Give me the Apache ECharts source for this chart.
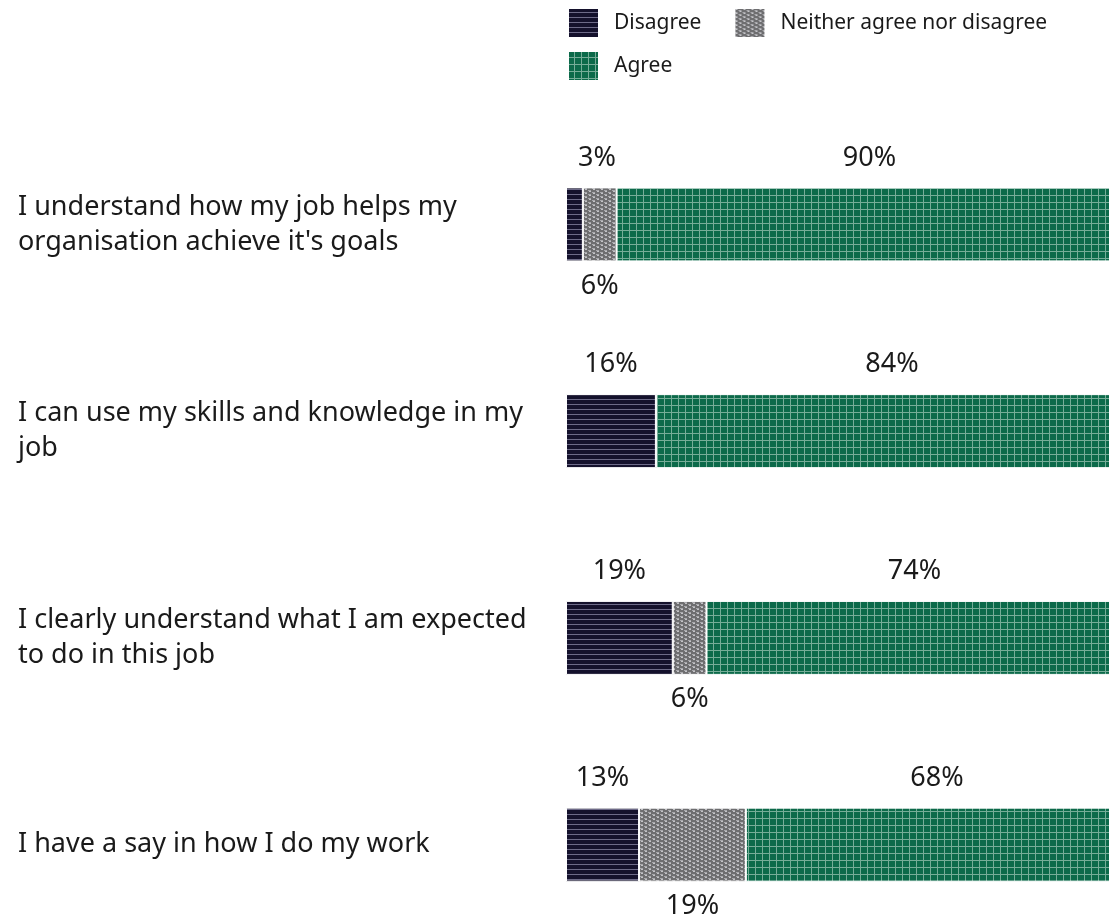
<!DOCTYPE html>
<html>
<head>
<meta charset="utf-8">
<script src="https://cdn.jsdelivr.net/npm/echarts@6/dist/echarts.min.js"></script>
<style>
  html, body { margin: 0; padding: 0; background: #fff; }
  #chart { width: 1109px; height: 917px; }
</style>
</head>
<body>
<div id="chart"></div>
<script>
// survey statements (top to bottom)
var categories = [
  "I understand how my job helps my\norganisation achieve it's goals",
  "I can use my skills and knowledge in my\njob",
  "I clearly understand what I am expected\nto do in this job",
  "I have a say in how I do my work"
];
var disagree = [3, 16, 19, 13];
var neither = [6, '-', 6, 19];
var agree = [90, 84, 74, 68];

var FONT = "Noto Sans";

// small canvas tiles used as fill patterns
function tile(w, h, draw) {
  var c = document.createElement('canvas');
  c.width = w; c.height = h;
  draw(c.getContext('2d'));
  return { image: c, repeat: 'repeat' };
}
var lineFill = tile(6, 5, function (ctx) {
  ctx.fillStyle = '#14112c'; ctx.fillRect(0, 0, 6, 5);
  ctx.fillStyle = '#6d6a88'; ctx.fillRect(0, 4, 6, 1);
});
var brickFill = tile(8, 4, function (ctx) {
  ctx.fillStyle = '#6e6e70'; ctx.fillRect(0, 0, 8, 4);
  ctx.fillStyle = '#a9a9ad';
  ctx.fillRect(0, 0, 3, 1); ctx.fillRect(4, 2, 3, 1);
  ctx.fillStyle = '#c4c4c8';
  ctx.fillRect(1, 1, 2, 1); ctx.fillRect(5, 3, 2, 1);
});
var gridFill = tile(7, 7, function (ctx) {
  ctx.fillStyle = '#0c6a4a'; ctx.fillRect(0, 0, 7, 7);
  ctx.fillStyle = '#76ad98';
  ctx.fillRect(6, 0, 1, 7); ctx.fillRect(0, 6, 7, 1);
});

var labelStyle = { fontFamily: FONT, fontSize: 27, color: '#1a1a1a' };
var legendText = { fontFamily: FONT, fontSize: 21, color: '#1a1a1a', padding: [0, 0, 0, 10] };

var chart = echarts.init(document.getElementById('chart'));
chart.setOption({
  animation: false,
  legend: [{
    data: ['Disagree', 'Neither agree nor disagree'],
    left: 567, top: 7, padding: 0,
    icon: 'rect', itemWidth: 31, itemHeight: 30, itemGap: 32,
    textStyle: legendText
  }, {
    data: ['Agree'],
    left: 567, top: 50, padding: 0,
    icon: 'rect', itemWidth: 31, itemHeight: 30,
    textStyle: legendText
  }],
  grid: { left: 566, width: 562, top: 121, height: 827, outerBoundsMode: 'none', containLabel: false },
  xAxis: { type: 'value', min: 0, max: 100, show: false },
  yAxis: {
    type: 'category',
    inverse: true,
    data: categories,
    axisLine: { show: false },
    axisTick: { show: false },
    axisLabel: {
      align: 'left', margin: 548,
      fontFamily: FONT, fontSize: 27, lineHeight: 35, color: '#1a1a1a'
    }
  },
  series: [{
    name: 'Disagree', type: 'bar', stack: 'all', barWidth: 74,
    data: disagree,
    itemStyle: { color: lineFill, borderColor: '#fff', borderWidth: 1 },
    label: Object.assign({ show: true, position: 'top', distance: 16, formatter: '{c}%' }, labelStyle),
    labelLayout: function (p) {
      if (p.labelRect.width > p.rect.width) {
        return { dx: p.rect.x + 12 - p.labelRect.x };
      }
    }
  }, {
    name: 'Neither agree nor disagree', type: 'bar', stack: 'all', barWidth: 74,
    data: neither,
    itemStyle: { color: brickFill, borderColor: '#fff', borderWidth: 1 },
    label: Object.assign({ show: true, position: 'bottom', distance: 11, formatter: '{c}%' }, labelStyle)
  }, {
    name: 'Agree', type: 'bar', stack: 'all', barWidth: 74,
    data: agree,
    itemStyle: { color: gridFill, borderColor: '#fff', borderWidth: 1 },
    label: Object.assign({ show: true, position: 'top', distance: 16, formatter: '{c}%' }, labelStyle)
  }]
});
</script>
</body>
</html>
